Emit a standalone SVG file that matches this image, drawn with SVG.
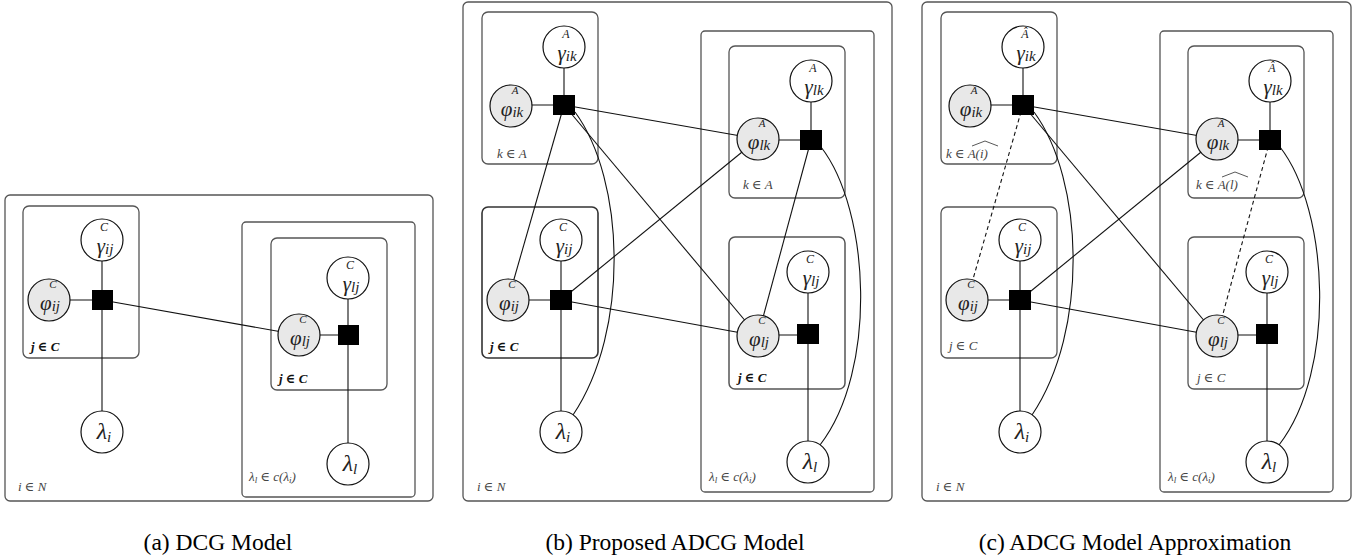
<svg xmlns="http://www.w3.org/2000/svg" width="1367" height="559" viewBox="0 0 1367 559">
<style>
.bg{fill:#fff}
.box{fill:none;stroke:#555;stroke-width:1.3}
.boxb{fill:none;stroke:#333;stroke-width:1.6}
.n{fill:#fff;stroke:#111;stroke-width:1.2}
.ns{fill:#e8e8e8;stroke:#111;stroke-width:1.2}
.f{fill:#000}
.e{fill:none;stroke:#111;stroke-width:1.1}
.d{stroke-dasharray:4 3}
.hat{fill:none;stroke:#444;stroke-width:0.9}
.m{font-family:"Liberation Serif","DejaVu Serif",serif;font-style:italic;fill:#222;text-anchor:middle}
.sg{font-size:12px}
.sp{font-size:11px}
.mm{font-size:21px}
.sb{font-size:15px}
.lam{font-size:24px}
.lab{font-family:"Liberation Serif","DejaVu Serif",serif;font-style:italic;font-size:13px;fill:#444}
.labb{font-family:"Liberation Serif","DejaVu Serif",serif;font-style:italic;font-weight:bold;font-size:13px;fill:#111}
.cap{font-family:"Liberation Serif","Times New Roman",serif;font-size:23.5px;fill:#000;text-anchor:middle}
</style>
<rect class="bg" x="0" y="0" width="1367" height="559"/>

<!-- ================= Panel (a) ================= -->
<g id="panel-a">
  <g id="a-plates">
    <rect class="box" x="5" y="195" width="428" height="306" rx="5"/>
    <rect class="box" x="23" y="206" width="116" height="152" rx="6"/>
    <rect class="box" x="242" y="222" width="173" height="275" rx="4"/>
    <rect class="box" x="271" y="238" width="116" height="152" rx="6"/>
    <text class="labb" x="31" y="351">j ∈ C</text>
    <text class="labb" x="279" y="383">j ∈ C</text>
    <text class="lab" x="249" y="481">λ<tspan font-size="9" dy="2">l</tspan><tspan dy="-2"> ∈ c(λ</tspan><tspan font-size="9" dy="2">i</tspan><tspan dy="-2">)</tspan></text>
    <text class="lab" x="18" y="491">i ∈ N</text>
  </g>
  <g id="a-edges">
    <line class="e" x1="102" y1="240" x2="102" y2="432"/>
    <line class="e" x1="49" y1="300" x2="102" y2="300"/>
    <line class="e" x1="102" y1="300" x2="299" y2="335"/>
    <line class="e" x1="348" y1="278" x2="348" y2="464"/>
    <line class="e" x1="299" y1="335" x2="348" y2="335"/>
  </g>
  <g id="a-gamma-ij"><circle class="n" cx="102" cy="240" r="21"/><text class="m sg" x="104" y="231">C</text><text class="m mm" x="105" y="253">γ<tspan class="sb" dy="1">ij</tspan></text></g>
  <g id="a-phi-ij"><circle class="ns" cx="49" cy="300" r="21"/><text class="m sp" x="53" y="288">C</text><text class="m mm" x="50" y="310">φ<tspan class="sb" dy="1">ij</tspan></text></g>
  <g id="a-factor-ij"><rect class="f" x="92" y="290" width="21" height="20"/></g>
  <g id="a-lambda-i"><circle class="n" cx="102" cy="432" r="21"/><text class="m lam" x="104" y="439">λ<tspan font-size="15" dy="3">i</tspan></text></g>
  <g id="a-gamma-lj"><circle class="n" cx="348" cy="278" r="21"/><text class="m sg" x="350" y="269">C</text><text class="m mm" x="351" y="291">γ<tspan class="sb" dy="1">lj</tspan></text></g>
  <g id="a-phi-lj"><circle class="ns" cx="299" cy="335" r="21"/><text class="m sp" x="303" y="323">C</text><text class="m mm" x="300" y="345">φ<tspan class="sb" dy="1">lj</tspan></text></g>
  <g id="a-factor-lj"><rect class="f" x="338" y="325" width="21" height="20"/></g>
  <g id="a-lambda-l"><circle class="n" cx="348" cy="464" r="21"/><text class="m lam" x="350" y="471">λ<tspan font-size="15" dy="3">l</tspan></text></g>
</g>

<!-- ================= Panel (b) ================= -->
<g id="panel-b">
  <g id="b-plates">
    <rect class="box" x="463" y="2" width="429" height="499" rx="5"/>
    <rect class="box" x="482" y="12" width="116" height="152" rx="6"/>
    <rect class="boxb" x="482" y="207" width="116" height="151" rx="6"/>
    <rect class="box" x="701" y="31" width="173" height="461" rx="4"/>
    <rect class="box" x="729" y="46" width="116" height="152" rx="6"/>
    <rect class="box" x="729" y="237" width="116" height="152" rx="6" style="stroke-width:1.5"/>
    <text class="lab" x="497" y="158">k ∈ A</text>
    <text class="lab" x="743" y="189">k ∈ A</text>
    <text class="labb" x="490" y="351">j ∈ C</text>
    <text class="labb" x="738" y="382">j ∈ C</text>
    <text class="lab" x="709" y="481">λ<tspan font-size="9" dy="2">l</tspan><tspan dy="-2"> ∈ c(λ</tspan><tspan font-size="9" dy="2">i</tspan><tspan dy="-2">)</tspan></text>
    <text class="lab" x="477" y="491">i ∈ N</text>
  </g>
  <g id="b-edges">
    <line class="e" x1="564" y1="47" x2="564" y2="105"/>
    <line class="e" x1="511" y1="105" x2="564" y2="105"/>
    <line class="e" x1="564" y1="105" x2="758" y2="139"/>
    <line class="e" x1="564" y1="105" x2="508" y2="300"/>
    <line class="e" x1="564" y1="105" x2="758" y2="336"/>
    <path class="e" d="M575,112 C625,180 630,330 573,415"/>
    <line class="e" x1="561" y1="240" x2="561" y2="432"/>
    <line class="e" x1="508" y1="300" x2="561" y2="300"/>
    <line class="e" x1="758" y1="139" x2="561" y2="300"/>
    <line class="e" x1="561" y1="300" x2="758" y2="336"/>
    <line class="e" x1="811" y1="81" x2="811" y2="140"/>
    <line class="e" x1="758" y1="140" x2="811" y2="140"/>
    <line class="e" x1="811" y1="140" x2="758" y2="336"/>
    <path class="e" d="M821,147 C870,210 878,370 820,445"/>
    <line class="e" x1="808" y1="272" x2="808" y2="462"/>
    <line class="e" x1="758" y1="335" x2="808" y2="335"/>
  </g>
  <g id="b-gamma-ik"><circle class="n" cx="564" cy="47" r="21"/><text class="m sg" x="566" y="38">A</text><text class="m mm" x="567" y="60">γ<tspan class="sb" dy="1">ik</tspan></text></g>
  <g id="b-phi-ik"><circle class="ns" cx="511" cy="106" r="21"/><text class="m sp" x="515" y="94">A</text><text class="m mm" x="512" y="116">φ<tspan class="sb" dy="1">ik</tspan></text></g>
  <g id="b-factor-ik"><rect class="f" x="553" y="95" width="22" height="20"/></g>
  <g id="b-gamma-ij"><circle class="n" cx="561" cy="240" r="21"/><text class="m sg" x="563" y="231">C</text><text class="m mm" x="564" y="253">γ<tspan class="sb" dy="1">ij</tspan></text></g>
  <g id="b-phi-ij"><circle class="ns" cx="508" cy="300" r="21"/><text class="m sp" x="512" y="288">C</text><text class="m mm" x="509" y="310">φ<tspan class="sb" dy="1">ij</tspan></text></g>
  <g id="b-factor-ij"><rect class="f" x="550" y="290" width="22" height="20"/></g>
  <g id="b-lambda-i"><circle class="n" cx="561" cy="432" r="21"/><text class="m lam" x="563" y="439">λ<tspan font-size="15" dy="3">i</tspan></text></g>
  <g id="b-gamma-lk"><circle class="n" cx="811" cy="81" r="21"/><text class="m sg" x="813" y="72">A</text><text class="m mm" x="814" y="94">γ<tspan class="sb" dy="1">lk</tspan></text></g>
  <g id="b-phi-lk"><circle class="ns" cx="758" cy="139" r="21"/><text class="m sp" x="762" y="127">A</text><text class="m mm" x="759" y="149">φ<tspan class="sb" dy="1">lk</tspan></text></g>
  <g id="b-factor-lk"><rect class="f" x="800" y="130" width="22" height="20"/></g>
  <g id="b-gamma-lj"><circle class="n" cx="808" cy="272" r="21"/><text class="m sg" x="810" y="263">C</text><text class="m mm" x="811" y="285">γ<tspan class="sb" dy="1">lj</tspan></text></g>
  <g id="b-phi-lj"><circle class="ns" cx="758" cy="336" r="21"/><text class="m sp" x="762" y="324">C</text><text class="m mm" x="759" y="346">φ<tspan class="sb" dy="1">lj</tspan></text></g>
  <g id="b-factor-lj"><rect class="f" x="797" y="324" width="22" height="20"/></g>
  <g id="b-lambda-l"><circle class="n" cx="808" cy="462" r="21"/><text class="m lam" x="810" y="469">λ<tspan font-size="15" dy="3">l</tspan></text></g>
</g>

<!-- ================= Panel (c) ================= -->
<g id="panel-c" transform="translate(459,0)">
  <g id="c-plates">
    <rect class="box" x="463" y="2" width="429" height="499" rx="5"/>
    <rect class="box" x="482" y="12" width="116" height="152" rx="6"/>
    <rect class="box" x="482" y="207" width="116" height="151" rx="6"/>
    <rect class="box" x="701" y="31" width="173" height="461" rx="4"/>
    <rect class="box" x="729" y="46" width="116" height="152" rx="6"/>
    <rect class="box" x="729" y="237" width="116" height="152" rx="6"/>
    <text class="lab" x="487" y="158" font-size="16">k ∈ A(i)</text>
    <path class="hat" d="M513,146 L526,141 L539,146"/>
    <text class="lab" x="737" y="189" font-size="16">k ∈ A(l)</text>
    <path class="hat" d="M763,177 L776,172 L789,177"/>
    <text class="lab" x="490" y="350" font-size="14">j ∈ C</text>
    <text class="lab" x="738" y="382" font-size="14">j ∈ C</text>
    <text class="lab" x="709" y="481">λ<tspan font-size="9" dy="2">l</tspan><tspan dy="-2"> ∈ c(λ</tspan><tspan font-size="9" dy="2">i</tspan><tspan dy="-2">)</tspan></text>
    <text class="lab" x="477" y="491">i ∈ N</text>
  </g>
  <g id="c-edges">
    <line class="e" x1="564" y1="47" x2="564" y2="105"/>
    <line class="e" x1="511" y1="105" x2="564" y2="105"/>
    <line class="e" x1="564" y1="105" x2="758" y2="139"/>
    <line class="e d" x1="564" y1="105" x2="508" y2="300"/>
    <line class="e" x1="564" y1="105" x2="758" y2="336"/>
    <path class="e" d="M575,112 C625,180 630,330 573,415"/>
    <line class="e" x1="561" y1="240" x2="561" y2="432"/>
    <line class="e" x1="508" y1="300" x2="561" y2="300"/>
    <line class="e" x1="758" y1="139" x2="561" y2="300"/>
    <line class="e" x1="561" y1="300" x2="758" y2="336"/>
    <line class="e" x1="811" y1="81" x2="811" y2="140"/>
    <line class="e" x1="758" y1="140" x2="811" y2="140"/>
    <line class="e d" x1="811" y1="140" x2="758" y2="336"/>
    <path class="e" d="M821,147 C870,210 878,370 820,445"/>
    <line class="e" x1="808" y1="272" x2="808" y2="462"/>
    <line class="e" x1="758" y1="335" x2="808" y2="335"/>
  </g>
  <g id="c-gamma-ik"><circle class="n" cx="564" cy="47" r="21"/><text class="m sg" x="566" y="38">Â</text><text class="m mm" x="567" y="60">γ<tspan class="sb" dy="1">ik</tspan></text></g>
  <g id="c-phi-ik"><circle class="ns" cx="511" cy="106" r="21"/><text class="m sp" x="515" y="94">Â</text><text class="m mm" x="512" y="116">φ<tspan class="sb" dy="1">ik</tspan></text></g>
  <g id="c-factor-ik"><rect class="f" x="553" y="95" width="22" height="20"/></g>
  <g id="c-gamma-ij"><circle class="n" cx="561" cy="240" r="21"/><text class="m sg" x="563" y="231">C</text><text class="m mm" x="564" y="253">γ<tspan class="sb" dy="1">ij</tspan></text></g>
  <g id="c-phi-ij"><circle class="ns" cx="508" cy="300" r="21"/><text class="m sp" x="512" y="288">C</text><text class="m mm" x="509" y="310">φ<tspan class="sb" dy="1">ij</tspan></text></g>
  <g id="c-factor-ij"><rect class="f" x="550" y="290" width="22" height="20"/></g>
  <g id="c-lambda-i"><circle class="n" cx="561" cy="432" r="21"/><text class="m lam" x="563" y="439">λ<tspan font-size="15" dy="3">i</tspan></text></g>
  <g id="c-gamma-lk"><circle class="n" cx="811" cy="81" r="21"/><text class="m sg" x="813" y="72">Â</text><text class="m mm" x="814" y="94">γ<tspan class="sb" dy="1">lk</tspan></text></g>
  <g id="c-phi-lk"><circle class="ns" cx="758" cy="139" r="21"/><text class="m sp" x="762" y="127">Â</text><text class="m mm" x="759" y="149">φ<tspan class="sb" dy="1">lk</tspan></text></g>
  <g id="c-factor-lk"><rect class="f" x="800" y="130" width="22" height="20"/></g>
  <g id="c-gamma-lj"><circle class="n" cx="808" cy="272" r="21"/><text class="m sg" x="810" y="263">C</text><text class="m mm" x="811" y="285">γ<tspan class="sb" dy="1">lj</tspan></text></g>
  <g id="c-phi-lj"><circle class="ns" cx="758" cy="336" r="21"/><text class="m sp" x="762" y="324">C</text><text class="m mm" x="759" y="346">φ<tspan class="sb" dy="1">lj</tspan></text></g>
  <g id="c-factor-lj"><rect class="f" x="797" y="324" width="22" height="20"/></g>
  <g id="c-lambda-l"><circle class="n" cx="808" cy="462" r="21"/><text class="m lam" x="810" y="469">λ<tspan font-size="15" dy="3">l</tspan></text></g>
</g>

<g id="captions">
  <text class="cap" x="218" y="550">(a) DCG Model</text>
  <text class="cap" x="675" y="550">(b) Proposed ADCG Model</text>
  <text class="cap" x="1135" y="550">(c) ADCG Model Approximation</text>
</g>
</svg>
